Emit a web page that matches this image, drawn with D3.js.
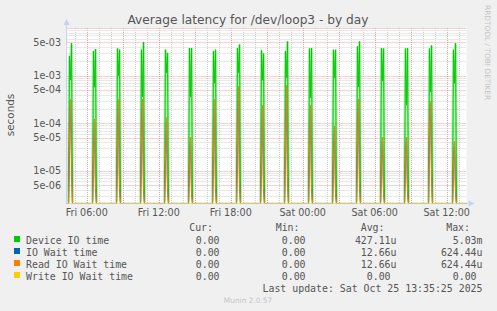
<!DOCTYPE html>
<html>
<head>
<meta charset="utf-8">
<script src="https://cdn.jsdelivr.net/npm/d3@7"></script>
<style>
  body { margin: 0; background: #f0f0f0; }
  text { font-family: "DejaVu Sans", sans-serif; }
  .mono { font-family: "DejaVu Sans Mono", monospace; white-space: pre; }
</style>
</head>
<body>
<div id="chart-area"></div>
<script>
// spike start times (5 minute steps, one px each)
const spikeStarts = [
  "2025-10-24 04:29", "2025-10-24 06:29", "2025-10-24 08:29", "2025-10-24 10:29",
  "2025-10-24 12:29", "2025-10-24 14:29", "2025-10-24 16:29", "2025-10-24 18:29",
  "2025-10-24 20:29", "2025-10-24 22:29", "2025-10-25 00:29", "2025-10-25 02:29",
  "2025-10-25 04:29", "2025-10-25 06:29", "2025-10-25 08:29", "2025-10-25 10:29",
  "2025-10-25 12:29"
]
// Device IO time per spike: first top, dip, second top
const deviceRise = [2.6e-3, 3.3e-3, 3.7e-3, 3.5e-3, 3.5e-3, 3.8e-3, 3.3e-3, 3.8e-3, 3.4e-3,
                    3.3e-3, 3.7e-3, 3.5e-3, 4.1e-3, 3.8e-3, 3.7e-3, 3.7e-3, 3.5e-3]
const deviceDip  = [8.1e-4, 5.7e-4, 1.0e-3, 3.6e-4, 1.16e-3, 3.6e-4, 6.9e-4, 1.16e-3, 8.0e-4,
                    9.1e-4, 3.4e-4, 9.1e-4, 5.8e-4, 7.8e-4, 2.4e-4, 4.5e-4, 6.9e-4]
const devicePeak = [4.8e-3, 3.6e-3, 3.5e-3, 5.03e-3, 3.0e-3, 3.8e-3, 3.5e-3, 4.5e-3, 2.9e-3,
                    5.2e-3, 3.8e-3, 3.5e-3, 5.2e-3, 3.7e-3, 3.8e-3, 4.3e-3, 4.8e-3]
// Read IO wait time per spike (IO wait time is the same)
const readLow  = [5.6e-5, 2.0e-5, 4.0e-5, 4.4e-5, 2.0e-5, 1.5e-5, 3.0e-5, 5.0e-5, 2.0e-5,
                  4.0e-5, 3.0e-5, 2.0e-5, 5.0e-5, 1.5e-5, 2.0e-5, 9.0e-5, 1.5e-5]
const readPeak = [3.1e-4, 1.2e-4, 3.1e-4, 3.2e-4, 1.3e-4, 5.1e-5, 3.1e-4, 5.8e-4, 2.4e-4,
                  6.24e-4, 2.4e-4, 8.5e-5, 3.2e-4, 5.1e-5, 5.1e-5, 2.9e-4, 4.1e-5]
const readTail = [1.9e-5, 5e-6, 5e-6, 4.6e-6, 5e-6, 4e-6, 5e-6, 6e-6, 5e-6,
                  8e-6, 5e-6, 4e-6, 6e-6, 4e-6, 4e-6, 1.15e-5, 4e-6]

const timeStart = "2025-10-24 04:19"
const timeEnd = "2025-10-25 13:39"
const xTicks = ["2025-10-24 06:00", "2025-10-24 12:00", "2025-10-24 18:00",
                "2025-10-25 00:00", "2025-10-25 06:00", "2025-10-25 12:00"]
const yTickValues = [5e-6, 1e-5, 5e-5, 1e-4, 5e-4, 1e-3, 5e-3]

const legendNames = ["Device IO time", "IO Wait time", "Read IO Wait time", "Write IO Wait time"]
const legendColors = ["#00cc00", "#0066b3", "#ff8000", "#ffcc00"]
const curVals = ["0.00 ", "0.00 ", "0.00 ", "0.00 "]
const minVals = ["0.00 ", "0.00 ", "0.00 ", "0.00 "]
const avgVals = ["427.11u", "12.66u", "12.66u", "0.00 "]
const maxVals = ["5.03m", "624.44u", "624.44u", "0.00 "]

const W = 497, H = 311
const PLOT = {LEFT: 66.5, RIGHT: 466.5, TOP: 28, BOTTOM: 203.5}
const parse = d3.timeParse("%Y-%m-%d %H:%M")

const svg = d3.select("#chart-area").append("svg")
  .attr("width", W)
  .attr("height", H)

svg.append("rect").attr("width", W).attr("height", H).attr("fill", "#f0f0f0")
svg.append("rect")
  .attr("x", PLOT.LEFT).attr("y", PLOT.TOP)
  .attr("width", PLOT.RIGHT - PLOT.LEFT).attr("height", PLOT.BOTTOM - PLOT.TOP)
  .attr("fill", "#ffffff")

svg.append("clipPath").attr("id", "above-floor")
  .append("rect")
  .attr("x", PLOT.LEFT).attr("y", PLOT.TOP)
  .attr("width", PLOT.RIGHT - PLOT.LEFT).attr("height", PLOT.BOTTOM - PLOT.TOP - 1)

// Scales
const x = d3.scaleTime()
  .domain([parse(timeStart), parse(timeEnd)])
  .range([PLOT.LEFT, PLOT.RIGHT])

const y = d3.scaleLog()
  .domain([2.06e-6, 1e-2])
  .range([PLOT.BOTTOM, PLOT.TOP])
  .clamp(true)
const yv = v => v > 0 ? y(v) : PLOT.BOTTOM

// Grid: minor hourly, major every 3 hours
const hours = d3.timeHour.range(parse(timeStart), parse(timeEnd))
svg.append("g").selectAll("line")
  .data(hours)
  .join("line")
  .attr("x1", d => Math.round(x(d)) + 0.5).attr("x2", d => Math.round(x(d)) + 0.5)
  .attr("y1", PLOT.TOP).attr("y2", PLOT.BOTTOM)
  .attr("stroke", d => d.getHours() % 3 === 0 ? "#eba2a2" : "#d2d2d2")
  .attr("stroke-dasharray", "1,1")

const yGrid = []
for (let e = -6; e <= -3; e++) {
  for (let m = 1; m <= 9; m++) {
    const v = m * Math.pow(10, e)
    if (v >= 2.06e-6 && v <= 1e-2) yGrid.push(v)
  }
}
yGrid.push(1e-2)
svg.append("g").selectAll("line")
  .data(yGrid)
  .join("line")
  .attr("x1", PLOT.LEFT).attr("x2", PLOT.RIGHT)
  .attr("y1", d => Math.round(y(d)) + 0.5).attr("y2", d => Math.round(y(d)) + 0.5)
  .attr("stroke", d => {
    const m = Math.round(d / Math.pow(10, Math.floor(Math.log10(d) + 1e-9)))
    return (m === 1 || m === 5) ? "#eba2a2" : "#d2d2d2"
  })
  .attr("stroke-dasharray", "1,1")

// Series
function buildSeries(fn) {
  const pts = [{t: parse(timeStart), v: 0}]
  spikeStarts.forEach((s, i) => {
    const t0 = parse(s)
    fn(i).forEach((v, k) => pts.push({t: d3.timeMinute.offset(t0, 5 * k), v: v}))
  })
  pts.push({t: parse(timeEnd), v: 0})
  return pts
}
const seriesData = [
  buildSeries(i => [0, deviceRise[i], deviceDip[i], devicePeak[i], 0]),
  buildSeries(i => [0, readLow[i], readPeak[i], readTail[i], 0]),
  buildSeries(i => [0, readLow[i], readPeak[i], readTail[i], 0]),
  buildSeries(i => [0, 0, 0, 0, 0])
]

const line = d3.line()
  .x(d => x(d.t))
  .y(d => yv(d.v))

// soft halo around the device line (rrdtool antialiasing look)
svg.append("path")
  .datum(seriesData[0])
  .attr("clip-path", "url(#above-floor)")
  .attr("d", line)
  .attr("fill", "none")
  .attr("stroke", "#00cc00")
  .attr("stroke-width", 3)
  .attr("opacity", 0.3)

svg.append("g").selectAll("path")
  .data(seriesData)
  .join("path")
  .attr("d", line)
  .attr("fill", "none")
  .attr("stroke", (d, i) => legendColors[i])
  .attr("stroke-width", 1)
  .attr("opacity", (d, i) => i === 3 ? 0.6 : 1)

// Axes lines and arrows
svg.append("line")
  .attr("x1", PLOT.LEFT).attr("x2", PLOT.LEFT)
  .attr("y1", PLOT.TOP - 4).attr("y2", PLOT.BOTTOM)
  .attr("stroke", "#c8d0f4")
svg.append("line")
  .attr("x1", PLOT.LEFT).attr("x2", PLOT.RIGHT + 2)
  .attr("y1", PLOT.BOTTOM).attr("y2", PLOT.BOTTOM)
  .attr("stroke", "#c8d0f4").attr("opacity", 0.5)
svg.append("path")
  .attr("d", `M${PLOT.LEFT - 3},${PLOT.TOP - 3} L${PLOT.LEFT},${PLOT.TOP - 9} L${PLOT.LEFT + 3},${PLOT.TOP - 3} Z`)
  .attr("fill", "#c8d0f4")
svg.append("path")
  .attr("d", `M${PLOT.RIGHT + 2},${PLOT.BOTTOM - 3} L${PLOT.RIGHT + 8},${PLOT.BOTTOM} L${PLOT.RIGHT + 2},${PLOT.BOTTOM + 3} Z`)
  .attr("fill", "#c8d0f4")

// Tick labels
svg.append("g").selectAll("text")
  .data(yTickValues)
  .join("text")
  .attr("x", 61)
  .attr("y", d => y(d) + 3.5)
  .attr("text-anchor", "end")
  .attr("font-size", "9.6px")
  .attr("fill", "#555")
  .text(d => d3.format(".0e")(d).replace(/e-(\d)$/, "e-0$1"))

svg.append("g").selectAll("text")
  .data(xTicks)
  .join("text")
  .attr("x", d => x(parse(d)))
  .attr("y", 216)
  .attr("text-anchor", "middle")
  .attr("font-size", "9.6px")
  .attr("fill", "#555")
  .text(d => d3.timeFormat("%a %H:%M")(parse(d)))

// Titles
svg.append("text")
  .attr("x", 248).attr("y", 24)
  .attr("text-anchor", "middle")
  .attr("font-size", "12.2px")
  .attr("fill", "#555")
  .text("Average latency for /dev/loop3 - by day")
svg.append("text")
  .attr("transform", "translate(14, 115) rotate(-90)")
  .attr("text-anchor", "middle")
  .attr("font-size", "10.4px")
  .attr("fill", "#555")
  .text("seconds")
svg.append("text")
  .attr("transform", "translate(485, 5) rotate(90)")
  .attr("text-anchor", "start")
  .attr("font-size", "7.4px")
  .attr("fill", "#c4c4c4")
  .text("RRDTOOL / TOBI OETIKER")

// Legend
const headX = [213, 299.5, 384.5, 470]
const colX = [225.5, 311.5, 396.5, 482.5]
;["Cur:", "Min:", "Avg:", "Max:"].forEach((h, i) => {
  svg.append("text").attr("class", "mono")
    .attr("x", headX[i]).attr("y", 231)
    .attr("text-anchor", "end")
    .attr("font-size", "9.9px").attr("fill", "#555")
    .text(h)
})
legendNames.forEach((name, i) => {
  const yy = 243.5 + i * 12
  const row = svg.append("g")
  row.append("rect")
    .attr("x", 14).attr("y", yy - 7.5)
    .attr("width", 6).attr("height", 6)
    .attr("fill", legendColors[i])
  row.append("text").attr("class", "mono")
    .attr("x", 26).attr("y", yy)
    .attr("font-size", "9.9px").attr("fill", "#555")
    .text(name)
  ;[curVals, minVals, avgVals, maxVals].forEach((vals, j) => {
    row.append("text").attr("class", "mono")
      .attr("x", colX[j]).attr("y", yy)
      .attr("text-anchor", "end")
      .attr("font-size", "9.9px").attr("fill", "#555")
      .text(vals[i])
  })
})
svg.append("text").attr("class", "mono")
  .attr("x", 482.5).attr("y", 291.5)
  .attr("text-anchor", "end")
  .attr("font-size", "9.9px").attr("fill", "#555")
  .text("Last update: Sat Oct 25 13:35:25 2025")
svg.append("text")
  .attr("x", 248).attr("y", 303)
  .attr("text-anchor", "middle")
  .attr("font-size", "7.4px")
  .attr("fill", "#c4c4c4")
  .text("Munin 2.0.57")
</script>
</body>
</html>
